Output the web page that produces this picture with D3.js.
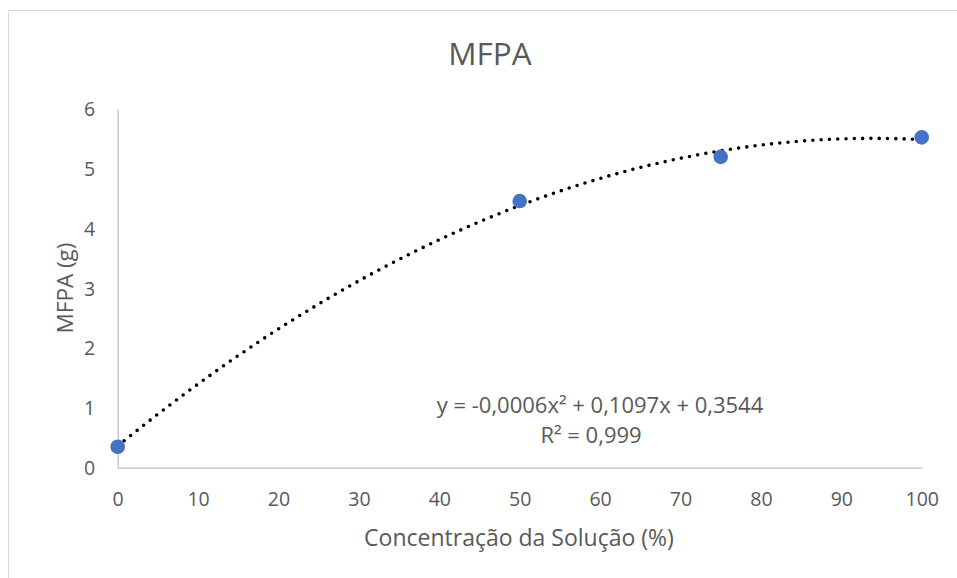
<!DOCTYPE html>
<html>
<head>
<meta charset="utf-8">
<script src="https://cdn.jsdelivr.net/npm/d3@7"></script>
<style>
  html, body { margin: 0; padding: 0; background: #fff; }
  svg { display: block; }
  text { font-family: "Open Sans", "Noto Sans", sans-serif; fill: #595959; }
</style>
</head>
<body>
<svg id="chart" width="957" height="578"></svg>
<script>
// ---- data ----
const concentration = [0, 50, 75, 100];
const mfpa = [0.35, 4.46, 5.20, 5.525];
const xTicks = [0, 10, 20, 30, 40, 50, 60, 70, 80, 90, 100];
const yTicks = [0, 1, 2, 3, 4, 5, 6];
const titleText = "MFPA";
const xLabel = "Concentração da Solução (%)";
const yLabel = "MFPA (g)";
const equationText = "y = -0,0006x² + 0,1097x + 0,3544";
const r2Text = "R² = 0,999";

const svg = d3.select("#chart");

// chart border
svg.append("rect")
  .attr("x", 8.5).attr("y", 10.5)
  .attr("width", 1000).attr("height", 1000)
  .attr("fill", "none").attr("stroke", "#d9d9d9").attr("stroke-width", 1);

const x = d3.scaleLinear().domain([0, 100]).range([117.7, 921.7]);
const y = d3.scaleLinear().domain([0, 6]).range([467.7, 109]);

// axes
const xAxis = d3.axisBottom(x).tickValues(xTicks).tickFormat(d3.format("d")).tickSize(0).tickPadding(0);
const gx = svg.append("g").attr("transform", `translate(0,${y(0)})`).call(xAxis);
gx.select(".domain").attr("stroke", "#bfbfbf").attr("stroke-width", 1.3);
gx.selectAll(".tick text")
  .attr("dy", null).attr("y", 38.5)
  .style("font-size", "19.5px").style("fill", "#595959")
  .style("font-family", '"Open Sans", sans-serif');

const yAxis = d3.axisLeft(y).tickValues(yTicks).tickFormat(d3.format("d")).tickSize(0).tickPadding(0);
const gy = svg.append("g").attr("transform", `translate(${x(0)},0)`).call(yAxis);
gy.select(".domain").attr("stroke", "#bfbfbf").attr("stroke-width", 1.3);
gy.selectAll(".tick text")
  .attr("x", -22.5).attr("dy", "0.35em")
  .style("font-size", "19.5px").style("fill", "#595959")
  .style("font-family", '"Open Sans", sans-serif');

// quadratic least-squares trendline from the data
function quadFit(xs, ys) {
  let S = [0,0,0,0,0], T = [0,0,0];
  xs.forEach((xi, i) => {
    for (let k = 0; k < 5; k++) S[k] += Math.pow(xi, k);
    for (let k = 0; k < 3; k++) T[k] += ys[i] * Math.pow(xi, k);
  });
  const A = [[S[0],S[1],S[2],T[0]],[S[1],S[2],S[3],T[1]],[S[2],S[3],S[4],T[2]]];
  for (let i = 0; i < 3; i++) {
    for (let j = i+1; j < 3; j++) {
      const f = A[j][i] / A[i][i];
      for (let k = i; k < 4; k++) A[j][k] -= f * A[i][k];
    }
  }
  const c = [0,0,0];
  for (let i = 2; i >= 0; i--) {
    let s = A[i][3];
    for (let k = i+1; k < 3; k++) s -= A[i][k] * c[k];
    c[i] = s / A[i][i];
  }
  return c;
}
const coef = quadFit(concentration, mfpa);
const trend = d3.range(0, 100.01, 0.5).map(v => [v, coef[0] + coef[1]*v + coef[2]*v*v]);
svg.append("path")
  .datum(trend)
  .attr("d", d3.line().x(d => x(d[0])).y(d => y(d[1])))
  .attr("fill", "none").attr("stroke", "#000")
  .attr("stroke-width", 3.6).attr("stroke-linecap", "round")
  .attr("stroke-dasharray", "0 8.3");

// points
svg.append("g").selectAll("circle")
  .data(concentration.map((c, i) => [c, mfpa[i]]))
  .join("circle")
  .attr("cx", d => x(d[0])).attr("cy", d => y(d[1]))
  .attr("r", 7.3).attr("fill", "#4472C4");

// title
svg.append("text").attr("x", 490).attr("y", 65)
  .attr("text-anchor", "middle").style("font-size", "31.5px").text(titleText);

// axis labels
svg.append("text").attr("x", 519).attr("y", 546)
  .attr("text-anchor", "middle").style("font-size", "23px").text(xLabel);
svg.append("text")
  .attr("transform", "translate(73,288) rotate(-90)")
  .attr("text-anchor", "middle").style("font-size", "22.5px").text(yLabel);

// equation
svg.append("text").attr("x", 600).attr("y", 413)
  .attr("text-anchor", "middle").style("font-size", "22px").text(equationText);
svg.append("text").attr("x", 591).attr("y", 443)
  .attr("text-anchor", "middle").style("font-size", "22px").text(r2Text);
</script>
</body>
</html>
